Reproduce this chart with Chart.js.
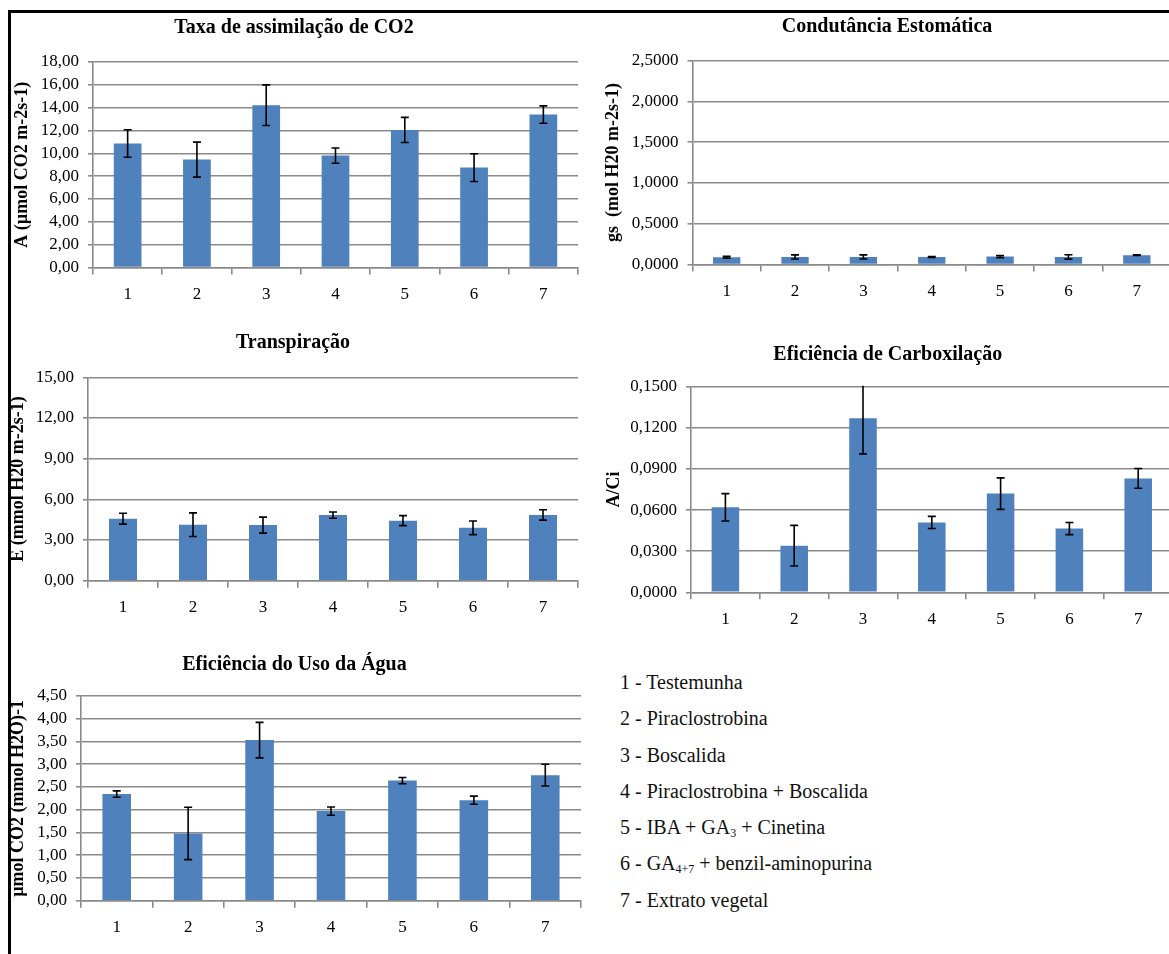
<!DOCTYPE html>
<html lang="pt">
<head>
<meta charset="utf-8">
<title>Trocas gasosas</title>
<script src="https://cdn.jsdelivr.net/npm/chart.js@4.4.1/dist/chart.umd.min.js"></script>
<style>
  html, body { margin: 0; padding: 0; background: #fff; overflow: hidden; }
  body { width: 1169px; height: 954px; position: relative; }
  .frame { position: absolute; left: 8px; top: 10px; width: 1200px; height: 1000px; border-top: 3px solid #000; border-left: 3px solid #000; }
  canvas { position: absolute; }
  #legend { position: absolute; left: 620px; top: 664px; font-family: "Liberation Serif", serif; font-size: 20px; line-height: 36.3px; color: #111; }
  #legend sub { font-size: 12px; vertical-align: -3px; line-height: 0; }
</style>
</head>
<body>
<div class="frame"></div>
<canvas id="c1"></canvas>
<canvas id="c2"></canvas>
<canvas id="c3"></canvas>
<canvas id="c4"></canvas>
<canvas id="c5"></canvas>
<div id="legend"></div>
<script>
const treatments = ['1', '2', '3', '4', '5', '6', '7'];
const treatmentNames = [
  'Testemunha',
  'Piraclostrobina',
  'Boscalida',
  'Piraclostrobina + Boscalida',
  'IBA + GA<sub>3</sub> + Cinetina',
  'GA<sub>4+7</sub> + benzil-aminopurina',
  'Extrato vegetal'
];

// Taxa de assimilação de CO2
const assimilacao = [10.86, 9.45, 14.22, 9.80, 12.05, 8.75, 13.40];
const assimilacaoErr = [1.20, 1.53, 1.78, 0.67, 1.10, 1.22, 0.76];

// Condutância estomática
const condutancia = [0.090, 0.093, 0.093, 0.092, 0.097, 0.093, 0.115];
const condutanciaErr = [0.012, 0.025, 0.025, 0.006, 0.013, 0.027, 0.005];

// Transpiração
const transpiracao = [4.57, 4.13, 4.10, 4.84, 4.43, 3.90, 4.85];
const transpiracaoErr = [0.40, 0.87, 0.59, 0.23, 0.37, 0.50, 0.38];

// Eficiência de carboxilação
const carboxilacao = [0.0620, 0.0340, 0.1270, 0.0510, 0.0720, 0.0465, 0.0831];
const carboxilacaoErr = [0.0100, 0.0148, 0.0260, 0.0044, 0.0115, 0.0044, 0.0072];

// Eficiência do uso da água
const usoAgua = [2.345, 1.478, 3.53, 1.97, 2.64, 2.21, 2.76];
const usoAguaErr = [0.07, 0.575, 0.39, 0.09, 0.07, 0.09, 0.24];

// eixo y: máximo, passo, casas decimais (ordem dos gráficos c1..c5)
const yMax = [18, 2.5, 15, 0.15, 4.5];
const yStep = [2, 0.5, 3, 0.03, 0.5];
const yDecimals = [2, 4, 2, 4, 2];

const BLUE = '#4F81BD';
const GRID = '#8a8a8a';
const SERIF = '"Liberation Serif", "Times New Roman", serif';

const errorBars = {
  id: 'errorBars',
  afterDatasetsDraw(chart, args, opts) {
    const errs = opts.values || [];
    const meta = chart.getDatasetMeta(0);
    const y = chart.scales.y;
    const data = chart.data.datasets[0].data;
    const area = chart.chartArea;
    const ctx = chart.ctx;
    ctx.save();
    ctx.beginPath();
    ctx.rect(area.left, area.top - 1, area.right - area.left, area.bottom - area.top + 1);
    ctx.clip();
    ctx.strokeStyle = '#000';
    ctx.lineWidth = 1.6;
    meta.data.forEach((bar, i) => {
      const e = errs[i];
      if (!e) return;
      const top = y.getPixelForValue(data[i] + e);
      const bot = y.getPixelForValue(data[i] - e);
      ctx.beginPath();
      ctx.moveTo(bar.x, top); ctx.lineTo(bar.x, bot);
      ctx.moveTo(bar.x - 4, top); ctx.lineTo(bar.x + 4, top);
      ctx.moveTo(bar.x - 4, bot); ctx.lineTo(bar.x + 4, bot);
      ctx.stroke();
    });
    ctx.restore();
  }
};

function makeChart(id, box, idx, values, errors, title, yTitle) {
  const canvas = document.getElementById(id);
  canvas.width = box.width;
  canvas.height = box.height;
  canvas.style.left = box.left + 'px';
  canvas.style.top = box.top + 'px';

  const titleSize = 20, titleLH = titleSize * 1.2;
  const yTitleSize = 18, yTitleLH = yTitleSize * 1.2;
  const dec = yDecimals[idx];

  return new Chart(canvas.getContext('2d'), {
    type: 'bar',
    data: {
      labels: treatments,
      datasets: [{
        data: values,
        backgroundColor: BLUE,
        borderWidth: 0,
        categoryPercentage: 1,
        barPercentage: 0.4
      }]
    },
    options: {
      responsive: false,
      animation: false,
      devicePixelRatio: 1,
      layout: { padding: { left: 0, top: 0, bottom: 0, right: box.padRight } },
      plugins: {
        legend: { display: false },
        tooltip: { enabled: false },
        title: {
          display: true,
          text: title,
          color: '#000',
          font: { family: SERIF, size: titleSize, weight: 'bold' },
          padding: { top: box.titleY - titleLH / 2, bottom: box.plotTop - box.titleY - titleLH / 2 }
        },
        errorBars: { values: errors }
      },
      scales: {
        x: {
          afterFit(s) { s.height = box.height - box.plotBottom; },
          grid: { display: true, drawOnChartArea: false, drawTicks: true, tickLength: 7, color: GRID, lineWidth: 1.6 },
          border: { display: true, color: GRID, width: 1.6 },
          ticks: { color: '#000', padding: 10, font: { family: SERIF, size: 17 } }
        },
        y: {
          min: 0,
          max: yMax[idx],
          afterFit(s) { s.width = box.plotLeft; },
          grid: { color: GRID, lineWidth: 1.6, drawTicks: true, tickLength: 5 },
          border: { display: true, color: GRID, width: 1.6 },
          ticks: {
            stepSize: yStep[idx],
            autoSkip: false,
            color: '#000',
            padding: 9,
            font: { family: SERIF, size: 17 },
            callback: (v) => Number(v).toFixed(dec).replace('.', ',')
          },
          title: {
            display: true,
            text: yTitle,
            color: '#000',
            font: { family: SERIF, size: yTitleSize, weight: 'bold' },
            padding: { top: Math.max(0, box.yTitleX - yTitleLH / 2), bottom: 0 }
          }
        }
      }
    },
    plugins: [errorBars]
  });
}

makeChart('c1',
  { left: 10, top: 12, width: 572, height: 300, padRight: 4, plotLeft: 83, plotTop: 50, plotBottom: 255.5, titleY: 16, yTitleX: 12 },
  0, assimilacao, assimilacaoErr, 'Taxa de assimilação de CO2', 'A (µmol CO2 m-2s-1)');

makeChart('c2',
  { left: 603, top: 12, width: 574, height: 300, padRight: 6, plotLeft: 89.5, plotTop: 48.7, plotBottom: 252.5, titleY: 15, yTitleX: 9 },
  1, condutancia, condutanciaErr, 'Condutância Estomática', 'gs  (mol H20 m-2s-1)');

makeChart('c3',
  { left: 8, top: 322, width: 578, height: 300, padRight: 8, plotLeft: 80, plotTop: 55.3, plotBottom: 258.7, titleY: 21, yTitleX: 9 },
  2, transpiracao, transpiracaoErr, 'Transpiração', 'E (mmol H20 m-2s-1)');

makeChart('c4',
  { left: 603, top: 330, width: 578, height: 300, padRight: 8.4, plotLeft: 88, plotTop: 56.7, plotBottom: 262.3, titleY: 25, yTitleX: 11 },
  3, carboxilacao, carboxilacaoErr, 'Eficiência de Carboxilação', 'A/Ci');

makeChart('c5',
  { left: 8, top: 640, width: 586, height: 314, padRight: 13, plotLeft: 73, plotTop: 56, plotBottom: 260.7, titleY: 25, yTitleX: 9 },
  4, usoAgua, usoAguaErr, 'Eficiência do Uso da Água', 'µmol CO2 (mmol H2O)-1');

document.getElementById('legend').innerHTML = treatments
  .map((t, i) => '<div>' + t + ' - ' + treatmentNames[i] + '</div>')
  .join('');
</script>
</body>
</html>
